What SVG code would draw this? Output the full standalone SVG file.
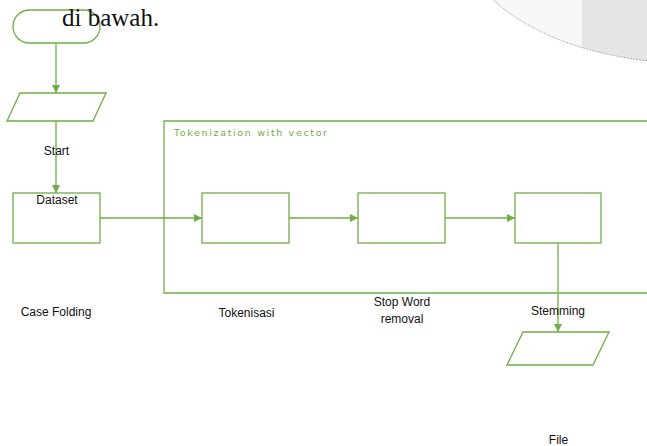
<svg xmlns="http://www.w3.org/2000/svg" width="647" height="446" viewBox="0 0 647 446">
<style>
.shape{fill:none;stroke:#70ad47;stroke-width:1.3}
.edge{fill:none;stroke:#70ad47;stroke-width:1.3}
.lbl{font-family:"Liberation Sans",Arial,sans-serif;font-size:12px;fill:#111;text-anchor:middle}
</style>
<defs>
<marker id="ah" viewBox="0 0 10 10" refX="10" refY="5" markerWidth="8" markerHeight="8" markerUnits="userSpaceOnUse" orient="auto">
<path d="M0,0 L10,5 L0,10 z" fill="#70ad47"/>
</marker>
<clipPath id="ellclip"><ellipse cx="690" cy="-71.5" rx="232" ry="134.5"/></clipPath>
</defs>
<rect width="647" height="446" fill="#fff"/>
<g id="bgshape">
<ellipse cx="690" cy="-71.5" rx="232" ry="134.5" fill="#f8f8f8"/>
<rect x="582" y="0" width="80" height="80" fill="#e6e6e6" clip-path="url(#ellclip)"/>
<ellipse cx="690" cy="-71.5" rx="232" ry="134.5" fill="none" stroke="#999" stroke-width="0.8" stroke-dasharray="2,1"/>
</g>
<g id="container">
<path class="shape" d="M650,121 L164,121 L164,293 L650,293" stroke="#8cc068"/>
<text x="174" y="136" textLength="153" style="font-family:'DejaVu Sans',Verdana,sans-serif;font-size:9.5px;fill:#70ad47">Tokenization with vector</text>
</g>
<g id="connectors">
<line class="edge" x1="56" y1="43" x2="56" y2="93" marker-end="url(#ah)"/>
<line class="edge" x1="56" y1="121" x2="56" y2="193" marker-end="url(#ah)"/>
<line class="edge" x1="100" y1="218" x2="202" y2="218" marker-end="url(#ah)"/>
<line class="edge" x1="289" y1="218" x2="358" y2="218" marker-end="url(#ah)"/>
<line class="edge" x1="445" y1="218" x2="515" y2="218" marker-end="url(#ah)"/>
<line class="edge" x1="558" y1="243" x2="558" y2="332" marker-end="url(#ah)"/>
</g>
<g id="start">
<rect class="shape" x="13" y="10" width="87" height="33" rx="16.5" ry="16.5"/>
</g>
<text x="62" y="26" style="font-family:'Liberation Serif','Times New Roman',serif;font-size:25px;fill:#111">di bawah.</text>
<g id="dataset">
<polygon class="shape" points="20,93 106,93 93,121 7,121"/>
<text class="lbl" x="56.5" y="155">Start</text>
</g>
<g id="casefolding">
<rect class="shape" x="13" y="193" width="87" height="50"/>
<text class="lbl" x="57" y="204">Dataset</text>
<text class="lbl" x="56" y="316">Case Folding</text>
</g>
<g id="tokenisasi">
<rect class="shape" x="202" y="193" width="87" height="50"/>
<text class="lbl" x="246.5" y="317">Tokenisasi</text>
</g>
<g id="stopword">
<rect class="shape" x="358" y="193" width="87" height="50"/>
<text class="lbl" x="402" y="306">Stop Word</text>
<text class="lbl" x="402" y="323">removal</text>
</g>
<g id="stemming">
<rect class="shape" x="515" y="193" width="86" height="50"/>
<text class="lbl" x="558" y="315">Stemming</text>
</g>
<g id="file">
<polygon class="shape" points="523,332 609,332 593,365 507,365"/>
<text class="lbl" x="558.5" y="444">File</text>
</g>
</svg>
